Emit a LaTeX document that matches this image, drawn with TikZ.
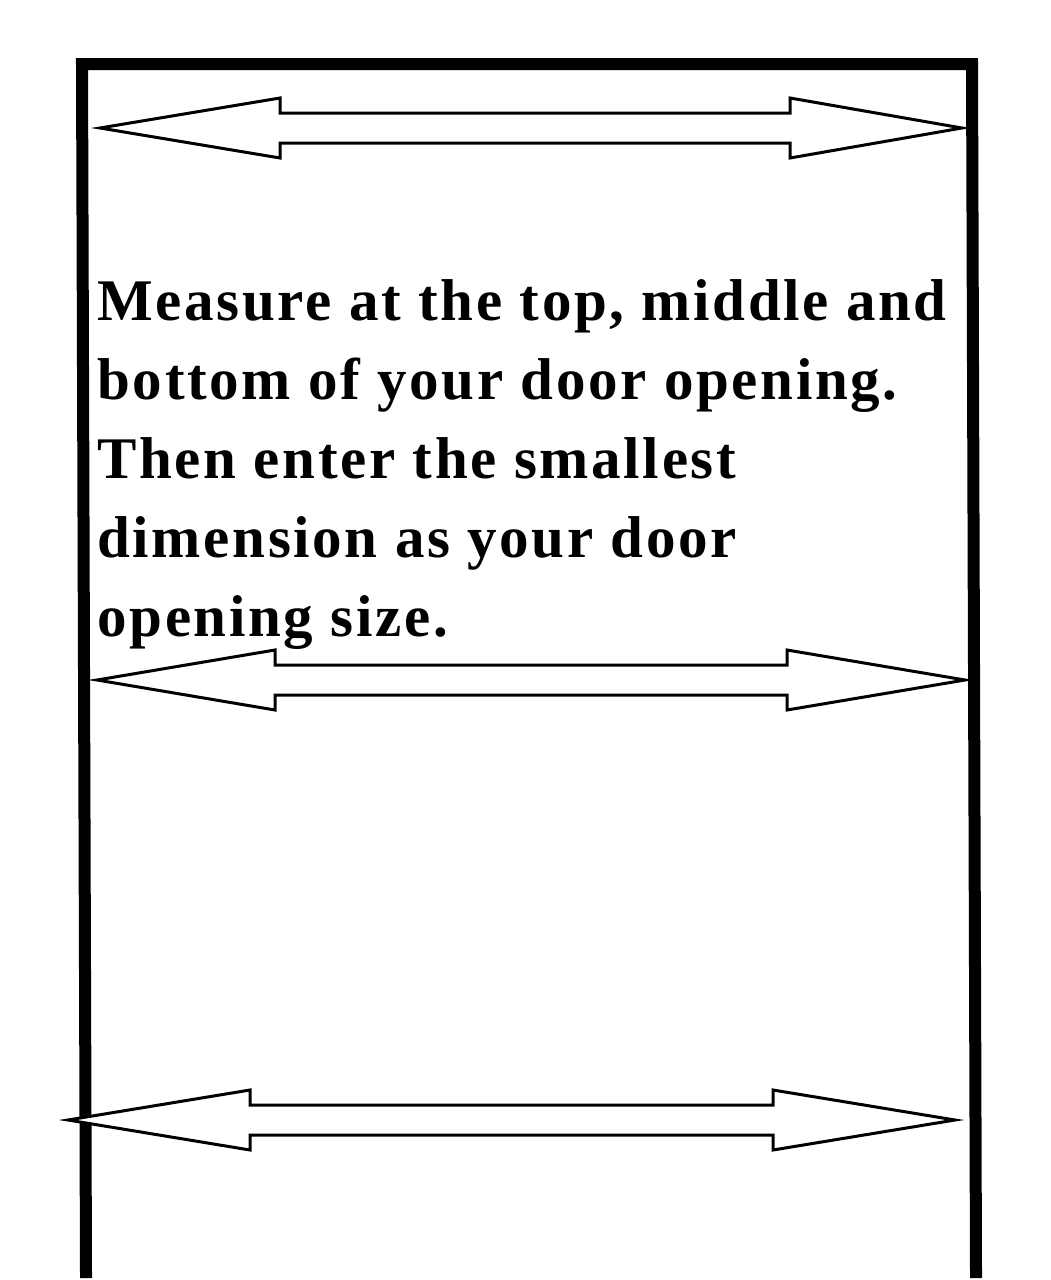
\documentclass[tikz,border=0pt]{standalone}
\usepackage{fontspec}
\setmainfont{Liberation Serif}
\newfontfamily\notefont[LetterSpace=4.5]{Liberation Serif}
\tikzset{
  frame/.style={line width=6pt, line cap=rect},
  dimarrow/.style={draw=black, fill=white, line width=1.5pt, line join=miter}
}
% tip-left x, left head base x, right head base x, tip-right x, y
\newcommand{\dimarrowat}[5]{%
  \draw[dimarrow] (#1,#5) -- (#2,#5-30) -- (#2,#5-15) -- (#3,#5-15) -- (#3,#5-30)
    -- (#4,#5) -- (#3,#5+30) -- (#3,#5+15) -- (#2,#5+15) -- (#2,#5+30) -- cycle;}
\begin{document}
\begin{tikzpicture}[x=0.5pt,y=-0.5pt]
  \useasboundingbox (0,0) rectangle (1050,1280);
  % door frame
  \draw[frame] (86,1272) -- (82,64) -- (972,64) -- (976,1272);
  % measuring arrows
  \dimarrowat{100}{280}{790}{962}{128}
  \dimarrowat{97}{275}{787}{965}{680}
  \dimarrowat{68}{250}{773}{955}{1120}
  % instructions
  \node[anchor=north west, inner sep=0pt, align=left,
        font=\notefont\bfseries\fontsize{29.5}{39.5}\selectfont] (note) at (97,279)
    {Measure at the top, middle and\\bottom of your door opening.\\Then enter the smallest\\dimension as your door\\opening size.};
\end{tikzpicture}
\end{document}
